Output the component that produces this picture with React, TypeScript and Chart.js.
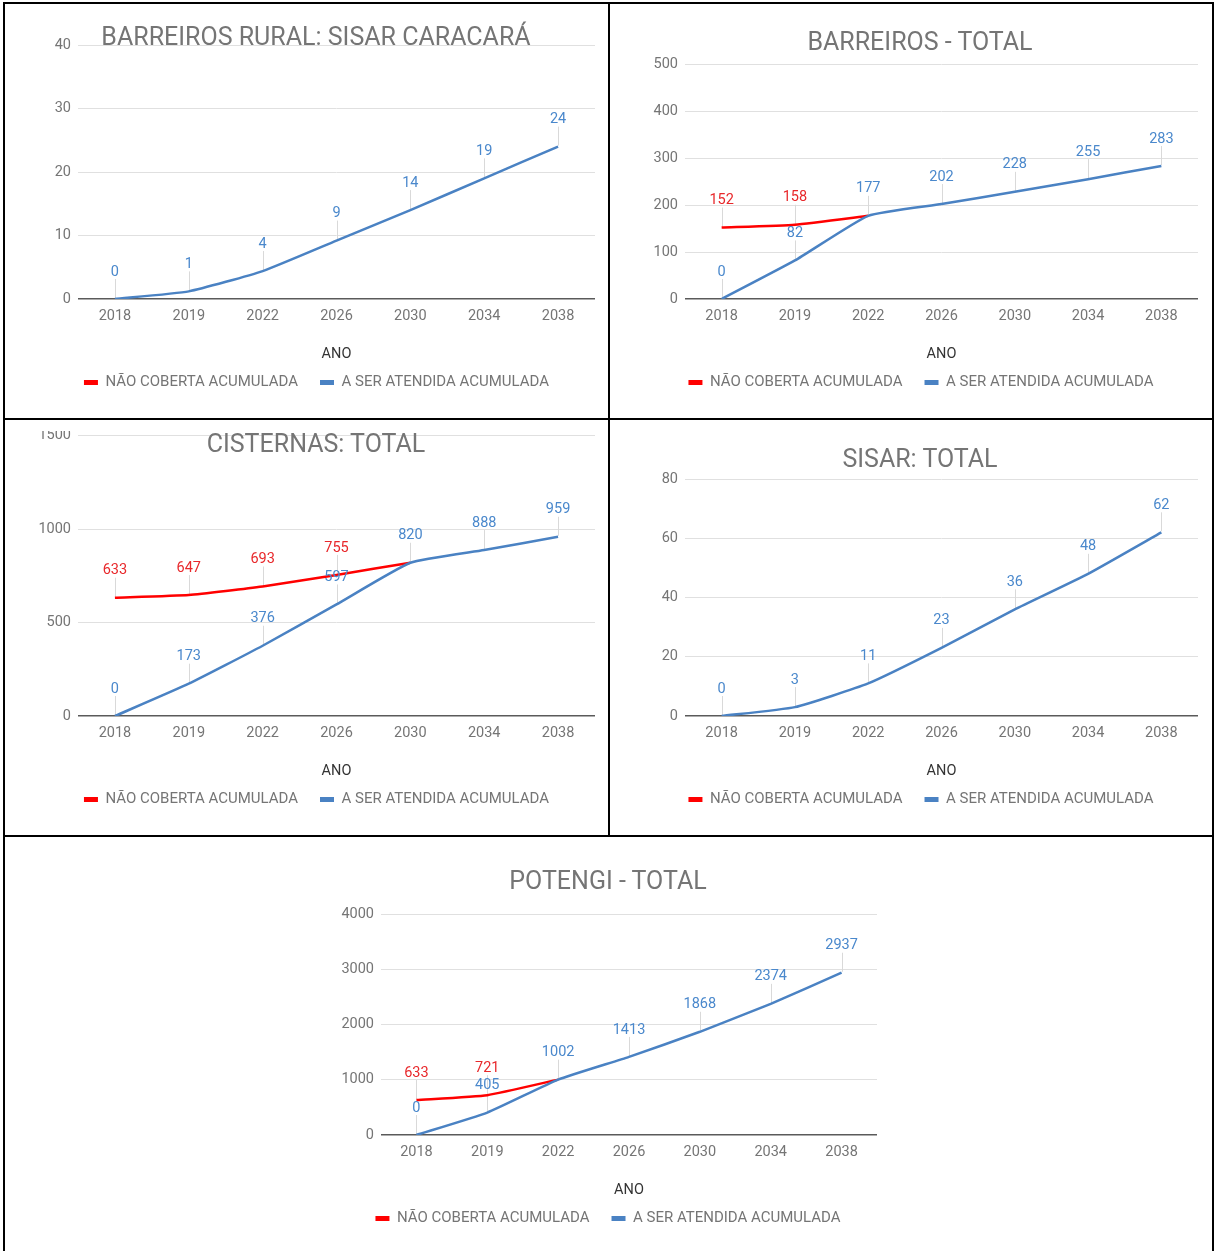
import React, { useEffect, useRef } from 'react';
import { Chart, registerables } from 'chart.js';

Chart.register(...registerables);

// ---------- DATA ----------
const years = ['2018', '2019', '2022', '2026', '2030', '2034', '2038'];
const seriesNames = ['NÃO COBERTA ACUMULADA', 'A SER ATENDIDA ACUMULADA'];
const xAxisTitle = 'ANO';

const ruralTitle = 'BARREIROS RURAL: SISAR CARACARÁ';
const ruralNaoCoberta: (number | null)[] = [null, null, null, null, null, null, null];
const ruralAtendida = [0, 1.2, 4.4, 9.2, 14, 19, 24];
const ruralTicks = [0, 10, 20, 30, 40];

const barreirosTitle = 'BARREIROS - TOTAL';
const barreirosNaoCoberta: (number | null)[] = [152, 158, 177, null, null, null, null];
const barreirosAtendida = [0, 82, 177, 202, 228, 255, 283];
const barreirosTicks = [0, 100, 200, 300, 400, 500];

const cisternasTitle = 'CISTERNAS: TOTAL';
const cisternasNaoCoberta: (number | null)[] = [633, 647, 693, 755, 820, null, null];
const cisternasAtendida = [0, 173, 376, 597, 820, 888, 959];
const cisternasTicks = [0, 500, 1000, 1500];

const sisarTitle = 'SISAR: TOTAL';
const sisarNaoCoberta: (number | null)[] = [null, null, null, null, null, null, null];
const sisarAtendida = [0, 3, 11, 23, 36, 48, 62];
const sisarTicks = [0, 20, 40, 60, 80];

const potengiTitle = 'POTENGI - TOTAL';
const potengiNaoCoberta: (number | null)[] = [633, 721, 1002, null, null, null, null];
const potengiAtendida = [0, 405, 1002, 1413, 1868, 2374, 2937];
const potengiTicks = [0, 1000, 2000, 3000, 4000];

// ---------- STYLE ----------
const RED = '#ff0000';
const BLUE = '#4a82c3';
const RED_LABEL = '#e8282b';
const BLUE_LABEL = '#4a88cc';
const GRAY = '#757575';
const FONT = "Roboto, 'Noto Sans', sans-serif";

Chart.defaults.font.family = FONT;
Chart.defaults.font.size = 14;
Chart.defaults.color = GRAY;

const labelColors = [RED_LABEL, BLUE_LABEL];

const skipLabel = (chart: any, di: number, i: number) => {
  if (di !== 0) return false;
  const other = chart.data.datasets[1].data[i];
  return other === chart.data.datasets[0].data[i];
};

const pointLabelPlugin = {
  id: 'pointLabelPlugin',
  beforeDatasetsDraw(chart: any) {
    const ctx = chart.ctx;
    ctx.save();
    ctx.strokeStyle = '#d9d9d9';
    ctx.lineWidth = 1;
    chart.data.datasets.forEach((ds: any, di: number) => {
      const meta = chart.getDatasetMeta(di);
      meta.data.forEach((pt: any, i: number) => {
        const v = ds.data[i];
        if (v == null || skipLabel(chart, di, i)) return;
        const x = Math.round(pt.x) + 0.5;
        ctx.beginPath();
        ctx.moveTo(x, pt.y - 1);
        ctx.lineTo(x, pt.y - 20);
        ctx.stroke();
      });
    });
    ctx.restore();
  },
  afterDatasetsDraw(chart: any) {
    const ctx = chart.ctx;
    ctx.save();
    ctx.font = `14.5px ${FONT}`;
    ctx.textAlign = 'center';
    ctx.textBaseline = 'middle';
    chart.data.datasets.forEach((ds: any, di: number) => {
      const meta = chart.getDatasetMeta(di);
      ctx.fillStyle = labelColors[di];
      meta.data.forEach((pt: any, i: number) => {
        const v = ds.data[i];
        if (v == null || skipLabel(chart, di, i)) return;
        ctx.fillText(String(Math.round(v)), pt.x, pt.y - 27);
      });
    });
    ctx.restore();
  },
};

type Rect = { left: number; top: number; width: number; height: number };
type Spec = {
  title: string;
  naoCoberta: (number | null)[];
  atendida: number[];
  ticks: number[];
  box: Rect;
  pad: { left: number; right: number; top: number; bottom: number };
  yWidth: number;
  titleX: number;
  titleY: number;
  mask?: Rect;
};

function Panel({ spec }: { spec: Spec }) {
  const ref = useRef<HTMLCanvasElement>(null);
  useEffect(() => {
    const ticks = spec.ticks;
    const chart = new Chart(ref.current as HTMLCanvasElement, {
      type: 'line',
      data: {
        labels: years,
        datasets: [
          {
            label: seriesNames[0],
            data: spec.naoCoberta,
            borderColor: RED,
            backgroundColor: RED,
            borderWidth: 2.5,
            pointRadius: 0,
            tension: 0.15,
            order: 1,
          },
          {
            label: seriesNames[1],
            data: spec.atendida,
            borderColor: BLUE,
            backgroundColor: BLUE,
            borderWidth: 2.5,
            pointRadius: 0,
            tension: 0.15,
            order: 0,
          },
        ],
      },
      options: {
        animation: false,
        responsive: false,
        devicePixelRatio: 1,
        layout: { padding: spec.pad },
        plugins: {
          title: { display: false },
          tooltip: { enabled: false },
          legend: {
            position: 'bottom',
            labels: {
              boxWidth: 14,
              boxHeight: 5,
              padding: 22,
              color: GRAY,
              font: { size: 15 },
              generateLabels: (c: any) =>
                (Chart.defaults.plugins.legend.labels.generateLabels as any)(c).map((l: any) => ({
                  ...l,
                  lineWidth: 0,
                })),
              sort: (a: any, b: any) => a.datasetIndex - b.datasetIndex,
            },
          },
        },
        scales: {
          x: {
            offset: true,
            grid: { display: false, drawTicks: false },
            border: { display: false },
            ticks: { padding: 9, color: GRAY, font: { size: 14.5 }, maxRotation: 0, autoSkip: false },
            title: {
              display: true,
              text: xAxisTitle,
              color: '#333333',
              font: { size: 14.5 },
              padding: { top: 0, bottom: -10 },
            },
            afterFit: (s: any) => {
              s.height = 54;
            },
          },
          y: {
            min: ticks[0],
            max: ticks[ticks.length - 1],
            ticks: {
              stepSize: ticks[1] - ticks[0],
              padding: 7,
              color: GRAY,
              font: { size: 14.5 },
              callback: (v: any) => String(v),
            },
            grid: {
              drawTicks: false,
              color: (c: any) => (c.tick && c.tick.value === 0 ? '#5a5a5a' : '#e0e0e0'),
              lineWidth: (c: any) => (c.tick && c.tick.value === 0 ? 1.5 : 1),
            },
            border: { display: false },
            afterFit: (s: any) => {
              s.width = spec.yWidth;
            },
          },
        },
      },
      plugins: [pointLabelPlugin],
    } as any);
    return () => chart.destroy();
  }, []);

  const { box } = spec;
  return (
    <>
      <div
        style={{
          position: 'absolute',
          left: box.left,
          top: box.top,
          width: box.width,
          height: box.height,
          overflow: 'hidden',
        }}
      >
        <canvas
          ref={ref}
          width={box.width}
          height={box.height}
          style={{ display: 'block', width: box.width + 'px', height: box.height + 'px' }}
        />
      </div>
      {spec.mask ? <div style={{ position: 'absolute', background: '#fff', ...spec.mask }} /> : null}
      <div
        style={{
          position: 'absolute',
          left: spec.titleX - 300,
          top: spec.titleY - 12.5,
          width: 600,
          textAlign: 'center',
          fontFamily: FONT,
          fontSize: 25,
          lineHeight: '25px',
          color: GRAY,
          whiteSpace: 'nowrap',
        }}
      >
        {spec.title}
      </div>
    </>
  );
}

const specs: Spec[] = [
  {
    title: ruralTitle,
    naoCoberta: ruralNaoCoberta,
    atendida: ruralAtendida,
    ticks: ruralTicks,
    box: { left: 5, top: 4, width: 603, height: 414 },
    pad: { left: 33, right: 13, top: 41, bottom: 18 },
    yWidth: 40,
    titleX: 316,
    titleY: 36,
  },
  {
    title: barreirosTitle,
    naoCoberta: barreirosNaoCoberta,
    atendida: barreirosAtendida,
    ticks: barreirosTicks,
    box: { left: 610, top: 4, width: 602, height: 414 },
    pad: { left: 34, right: 14, top: 60, bottom: 18 },
    yWidth: 41,
    titleX: 920,
    titleY: 41,
  },
  {
    title: cisternasTitle,
    naoCoberta: cisternasNaoCoberta,
    atendida: cisternasAtendida,
    ticks: cisternasTicks,
    box: { left: 5, top: 420, width: 603, height: 415 },
    pad: { left: 33, right: 13, top: 12, bottom: 18 },
    yWidth: 40,
    titleX: 316,
    titleY: 443,
    mask: { left: 5, top: 420, width: 72, height: 11 },
  },
  {
    title: sisarTitle,
    naoCoberta: sisarNaoCoberta,
    atendida: sisarAtendida,
    ticks: sisarTicks,
    box: { left: 610, top: 420, width: 602, height: 415 },
    pad: { left: 34, right: 14, top: 59, bottom: 18 },
    yWidth: 41,
    titleX: 920,
    titleY: 458,
  },
  {
    title: potengiTitle,
    naoCoberta: potengiNaoCoberta,
    atendida: potengiAtendida,
    ticks: potengiTicks,
    box: { left: 5, top: 837, width: 1207, height: 414 },
    pad: { left: 334, right: 335, top: 77, bottom: 15 },
    yWidth: 42,
    titleX: 608,
    titleY: 880,
  },
];

const lines = [
  { left: 3, top: 2, width: 1211, height: 2 },
  { left: 3, top: 2, width: 2, height: 1249 },
  { left: 1212, top: 2, width: 2, height: 1249 },
  { left: 608, top: 2, width: 2, height: 835 },
  { left: 3, top: 418, width: 1211, height: 2 },
  { left: 3, top: 835, width: 1211, height: 2 },
];

export default function App() {
  return (
    <div
      style={{
        position: 'absolute',
        left: 0,
        top: 0,
        width: 1214,
        height: 1251,
        background: '#fff',
        overflow: 'hidden',
      }}
    >
      {specs.map((s, i) => (
        <Panel key={i} spec={s} />
      ))}
      {lines.map((l, i) => (
        <div key={'l' + i} style={{ position: 'absolute', background: '#000', ...l }} />
      ))}
    </div>
  );
}
